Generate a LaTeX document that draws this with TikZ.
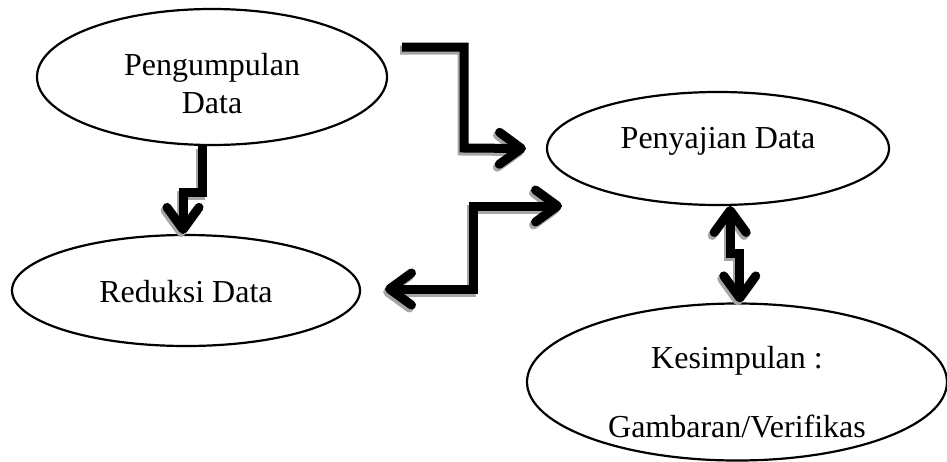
\documentclass[tikz,border=0pt]{standalone}
\usepackage{fontspec}
\setmainfont{Liberation Serif}
\usetikzlibrary{arrows.meta,shapes.geometric}
\newcommand{\lift}[2]{\raisebox{#1}[0pt][0pt]{#2}}
\newcommand{\jalur}{%
        \draw[fat,->] (awal) -| (464,148) -- ([xshift=-10pt]sajian.west);
        \draw[fat,->] (kumpul.262) -- (kumpul.262 |- 0,192) -| (reduksi.93);
        \draw[fat,<->] (kiri) -- (473,289) |- (kanan);
        \draw[fat,<->] (sajian.282) -- (sajian.282 |- 0,253) -| (simpul.88);}

\begin{document}
\begin{tikzpicture}[x=0.5pt,y=-0.5pt,
        oval/.style={draw, ellipse, line width=1.1pt, inner sep=0pt, font=\fontsize{16}{19}\selectfont},
        fat/.style={line width=4.5pt},
        >={Straight Barb[length=11pt,width=16pt,round]}]
        \useasboundingbox (0,0) rectangle (947,461);

        \node[oval, minimum width=175pt, minimum height=68pt] (kumpul) at (212,77)
            {\lift{-18pt}{\begin{tabular}[b]{@{}c@{}}Pengumpulan\\Data\end{tabular}}};
        \node[oval, minimum width=174pt, minimum height=55.5pt] (reduksi) at (186,290.5)
            {\lift{-5.75pt}{Reduksi Data}};
        \node[oval, minimum width=171pt, minimum height=56.5pt] (sajian) at (718,148.5)
            {\lift{0pt}{Penyajian Data}};
        \node[oval, minimum width=210pt, minimum height=78.5pt] (simpul) at (737,382)
            {\lift{-27.75pt}{\begin{tabular}[b]{@{}c@{}}Kesimpulan :\\[15.5pt]Gambaran/Verifikas\end{tabular}}};

        \coordinate (awal) at (402,47);
        \coordinate (kiri) at (385,289);
        \coordinate (kanan) at (562,206);

        \begin{scope}[transform canvas={shift={(-1pt,-1.5pt)}}, black!35]
            \jalur
        \end{scope}
        \jalur
    \end{tikzpicture}
\end{document}
